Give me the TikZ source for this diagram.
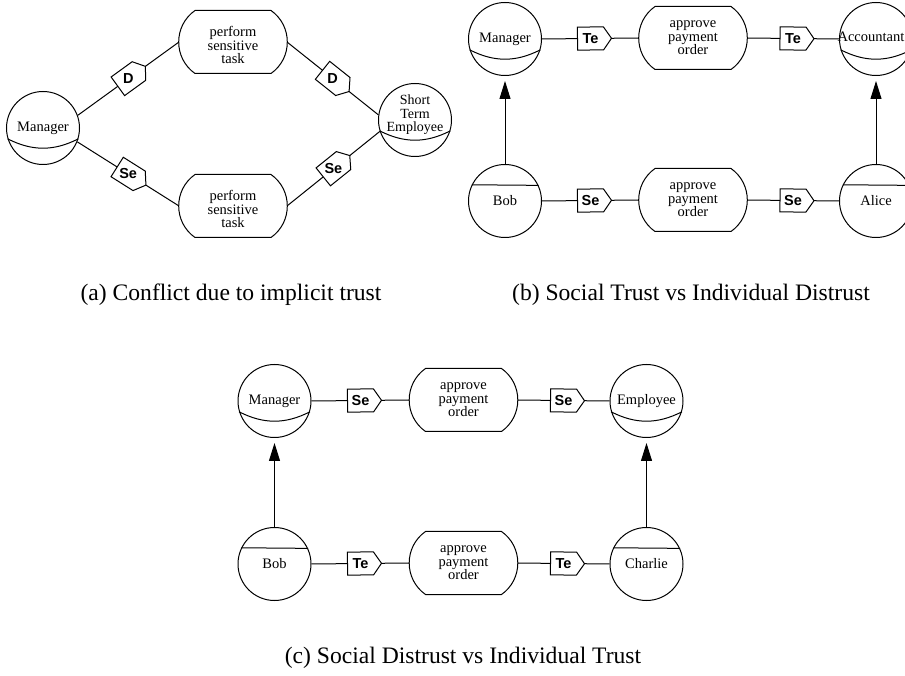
\documentclass[tikz,border=0pt]{standalone}
\usepackage{fontspec}
\setmainfont{Liberation Serif}
\newfontfamily\tagsans{Liberation Sans}
\usetikzlibrary{arrows.meta}
\newcommand\drawtask[1]{\draw ([xshift=16pt]#1.north west) -- ([xshift=-16pt]#1.north east) to[bend left=55,looseness=1.08] ([xshift=-16pt]#1.south east) -- ([xshift=16pt]#1.south west) to[bend left=55,looseness=1.08] ([xshift=16pt]#1.north west) -- cycle;}
\newcommand\rolearc[1]{\draw (#1.197) to[bend right=27] (#1.343);}
\newcommand\agentline[1]{\draw (#1.154.4) -- (#1.25.6);}
\newcommand\deptag[3]{\path (#1) -- (#2) pic[pos=0.5,sloped]{tagshape} node[pos=0.5,tagtext]{#3};}
\begin{document}
\begin{tikzpicture}[x=1pt,y=1pt,line width=1pt,
  actor/.style={circle,draw,minimum size=73pt,inner sep=0pt,font=\fontsize{14.5}{12.5}\selectfont,align=center},
  taskbox/.style={rectangle,draw=none,minimum width=107pt,minimum height=62pt,inner sep=0pt,font=\fontsize{14.5}{13.5}\selectfont,align=center},
  tasktext/.style={inner sep=0pt,font=\fontsize{14.5}{13.5}\selectfont,align=center},
  tagtext/.style={font=\tagsans\bfseries\fontsize{14.5}{14.5}\selectfont,inner sep=0pt},
  captiontext/.style={font=\fontsize{23.6}{28}\selectfont,anchor=base},
  depends/.style={-{Triangle[length=18pt,width=11pt]},shorten >=5pt},
  pics/tagshape/.style={code={\draw[fill=white,line width=1pt] (-13,-11.5) -- (13,-11.5) -- (21,0) -- (13,11.5) -- (-13,11.5) -- cycle;}}
]
\useasboundingbox (0,0) rectangle (905,675);
\clip (0,0) rectangle (905,675);

% ---------- (a) ----------
\node[actor] (am) at (43,547) {Manager};
\node[actor] (ae) at (415,555) {};
\node[tasktext,font=\fontsize{14}{13.5}\selectfont] (aetext) at (415,560) {Short\\Term\\Employee};
\node[taskbox] (at1) at (233,633) {};
\node[tasktext] (at1text) at (233,630) {perform\\sensitive\\task};
\node[taskbox] (at2) at (233,469) {};
\node[tasktext] (at2text) at (233,466) {perform\\sensitive\\task};
\rolearc{am}
\rolearc{ae}
\drawtask{at1}
\drawtask{at2}
\draw (am.20) -- (at1.west);
\draw (at1.east) -- (ae.172);
\draw (am.-22) -- (at2.west);
\draw (at2.east) -- (ae.198);
\deptag{am.20}{at1.west}{D}
\deptag{at1.east}{ae.172}{D}
\deptag{am.-22}{at2.west}{Se}
\deptag{at2.east}{ae.198}{Se}
\node[captiontext] (capa) at (231,374) {(a) Conflict due to implicit trust};

% ---------- (b) ----------
\node[actor] (bm) at (505,636) {Manager};
\node[actor] (bacc) at (876,636) {};
\node[tasktext] (bacctext) at (871,638) {Accountant};
\node[actor] (bb) at (505,474) {Bob};
\node[actor] (bal) at (876,474) {Alice};
\node[taskbox] (bt1) at (693,637) {approve\\payment\\order};
\node[taskbox] (bt2) at (693,475) {approve\\payment\\order};
\rolearc{bm}
\rolearc{bacc}
\agentline{bb}
\agentline{bal}
\drawtask{bt1}
\drawtask{bt2}
\draw (bm.east) -- (bt1.west);
\draw (bt1.east) -- (bacc.west);
\draw (bb.east) -- (bt2.west);
\draw (bt2.east) -- (bal.west);
\deptag{bm.east}{bt1.west}{Te}
\deptag{bt1.east}{bacc.west}{Te}
\deptag{bb.east}{bt2.west}{Se}
\deptag{bt2.east}{bal.west}{Se}
\draw[depends] (bb.north) -- (bm.south);
\draw[depends] (bal.north) -- (bacc.south);
\node[captiontext] (capb) at (691,374) {(b) Social Trust vs Individual Distrust};

% ---------- (c) ----------
\node[actor] (cm) at (274.5,274) {Manager};
\node[actor] (ce) at (646.5,274) {Employee};
\node[actor] (cb) at (274.5,111) {Bob};
\node[actor] (cc) at (646.5,111) {Charlie};
\node[taskbox] (ct1) at (463.5,275) {approve\\payment\\order};
\node[taskbox] (ct2) at (463.5,112) {approve\\payment\\order};
\rolearc{cm}
\rolearc{ce}
\agentline{cb}
\agentline{cc}
\drawtask{ct1}
\drawtask{ct2}
\draw (cm.east) -- (ct1.west);
\draw (ct1.east) -- (ce.west);
\draw (cb.east) -- (ct2.west);
\draw (ct2.east) -- (cc.west);
\deptag{cm.east}{ct1.west}{Se}
\deptag{ct1.east}{ce.west}{Se}
\deptag{cb.east}{ct2.west}{Te}
\deptag{ct2.east}{cc.west}{Te}
\draw[depends] (cb.north) -- (cm.south);
\draw[depends] (cc.north) -- (ce.south);
\node[captiontext] (capc) at (463,12) {(c) Social Distrust vs Individual Trust};
\end{tikzpicture}
\end{document}
